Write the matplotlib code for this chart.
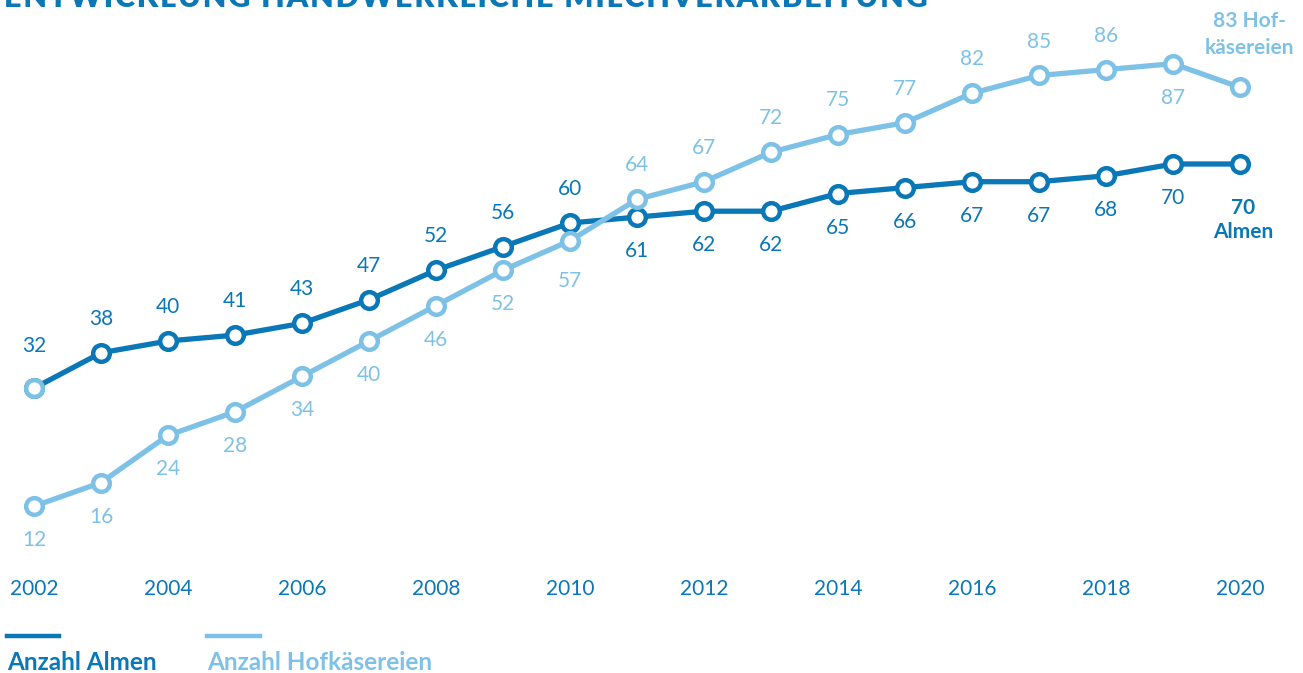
import numpy as np
import matplotlib
matplotlib.use("Agg")
import matplotlib.pyplot as plt
from matplotlib.lines import Line2D

plt.rcParams["font.family"] = ["Lato", "DejaVu Sans"]

DARK = "#0a77b7"
LIGHT = "#7dc2e6"

years = list(range(2002, 2021))
almen = [32, 38, 40, 41, 43, 47, 52, 56, 60, 61, 62, 62, 65, 66, 67, 67, 68, 70, 70]
hofkaesereien = [12, 16, 24, 28, 34, 40, 46, 52, 57, 64, 67, 72, 75, 77, 82, 85, 86, 87, 83]
tick_years = list(range(2002, 2021, 2))

# label above (+1) or below (-1) the point
almen_side = [1] * 9 + [-1] * 10
hof_side = [-1] * 9 + [1] * 8 + [-1]

W, H = 1303, 673
fig = plt.figure(figsize=(W / 100, H / 100), dpi=100)
ax_bottom_px = 575
ax = fig.add_axes([0, (H - ax_bottom_px) / H, 1, ax_bottom_px / H])

px_per_year = 67.0
ax.set_xlim(2002 - 34 / px_per_year, 2020 + (W - 1240) / px_per_year)
px_per_unit = 5.9
ax.set_ylim((577 - ax_bottom_px) / px_per_unit, 577 / px_per_unit)

for s in ax.spines.values():
    s.set_visible(False)
ax.set_yticks([])
ax.set_xticks(tick_years)
ax.set_xticklabels([str(y) for y in tick_years], fontsize=15, color=DARK)
ax.tick_params(axis="x", length=0, pad=3)

mk = dict(marker="o", markersize=12, markerfacecolor="white",
          markeredgewidth=3.2, clip_on=False)

ax.plot(years, almen, color=DARK, lw=3.8, markeredgecolor=DARK, zorder=3, **mk)
# first Almen point carries the light outline
ax.plot(years[:1], almen[:1], linestyle="none", markeredgecolor=LIGHT, zorder=3.5, **mk)
ax.plot(years, hofkaesereien, color=LIGHT, lw=3.8, markeredgecolor=LIGHT, zorder=4, **mk)

off = 34
for i, (x, v) in enumerate(zip(years[:-1], almen[:-1])):
    dy = off + (8 if i == 0 else 0)
    ax.annotate(str(v), (x, v), xytext=(0, dy * almen_side[i]),
                textcoords="offset pixels", ha="center", va="center",
                fontsize=15, color=DARK)
for i, (x, v) in enumerate(zip(years[:-1], hofkaesereien[:-1])):
    dy = off + (6 if i == 8 else 0)
    ax.annotate(str(v), (x, v), xytext=(0, dy * hof_side[i]),
                textcoords="offset pixels", ha="center", va="center",
                fontsize=15, color=LIGHT)

ax.annotate(f"{hofkaesereien[-1]} Hof-\nkäsereien", (years[-1], hofkaesereien[-1]),
            xytext=(10, 53), textcoords="offset pixels", ha="center", va="center",
            fontsize=15, fontweight="bold", color=LIGHT, linespacing=1.4)
ax.annotate(f"{almen[-1]}\nAlmen", (years[-1], almen[-1]),
            xytext=(3, -56), textcoords="offset pixels", ha="center", va="center",
            fontsize=15, fontweight="bold", color=DARK, linespacing=1.3)

# legend
def fx(px):
    return px / W

def fy(py):
    return 1 - py / H

fig.add_artist(Line2D([fx(7), fx(59)], [fy(636), fy(636)], color=DARK, lw=3.2))
fig.add_artist(Line2D([fx(207), fx(260)], [fy(636), fy(636)], color=LIGHT, lw=3.2))
fig.text(fx(7), fy(663), "Anzahl Almen", fontsize=17.5, fontweight="bold",
         color=DARK, va="center", ha="left")
fig.text(fx(207), fy(663), "Anzahl Hofkäsereien", fontsize=17.5, fontweight="bold",
         color=LIGHT, va="center", ha="left")

# heading, running off the top edge
title = "ENTWICKLUNG HANDWERKLICHE MILCHVERARBEITUNG"
fig.text(fx(4), fy(7), "\u200a".join(title), fontsize=22, fontweight="heavy",
         color=DARK, va="baseline", ha="left")

fig.savefig("out.png", dpi=100)
